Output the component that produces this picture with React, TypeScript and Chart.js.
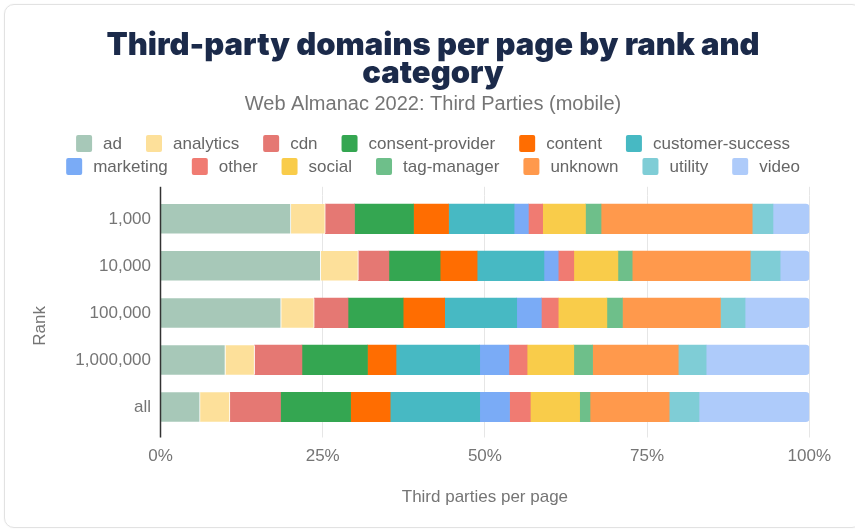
import React, { useEffect, useRef } from "react";
import { Chart, registerables } from "chart.js";

Chart.register(...registerables);

// ---- data ----
const ranks = ["1,000", "10,000", "100,000", "1,000,000", "all"];
const categoryNames = [
  "ad", "analytics", "cdn", "consent-provider", "content", "customer-success",
  "marketing", "other", "social", "tag-manager", "unknown", "utility", "video",
];
const ad = [20.1, 24.7, 18.6, 10.0, 6.1];
const analytics = [5.3, 5.8, 5.1, 4.5, 4.6];
const cdn = [4.5, 4.7, 5.2, 7.3, 7.8];
const consentProvider = [9.1, 7.9, 8.5, 10.1, 10.8];
const content = [5.4, 5.7, 6.4, 4.4, 6.1];
const customerSuccess = [10.1, 10.3, 11.1, 12.9, 13.8];
const marketing = [2.2, 2.2, 3.8, 4.5, 4.6];
const other = [2.2, 2.4, 2.6, 2.8, 3.2];
const social = [6.6, 6.8, 7.5, 7.2, 7.6];
const tagManager = [2.4, 2.2, 2.4, 2.9, 1.6];
const unknown = [23.3, 18.2, 15.1, 13.2, 12.2];
const utility = [3.2, 4.6, 3.8, 4.3, 4.6];
const video = [5.6, 4.5, 9.9, 15.9, 17.0];
const seriesValues = [
  ad, analytics, cdn, consentProvider, content, customerSuccess,
  marketing, other, social, tagManager, unknown, utility, video,
];
const colors = [
  "#a7c8b8", "#fde09a", "#e57873", "#34a651", "#ff6d01", "#47b9c3",
  "#7aabf6", "#f07b72", "#f9cc4a", "#6ebf8a", "#ff994c", "#7fcdd6", "#aecbfa",
];
const xTickValues = [0, 25, 50, 75, 100];
const yAxisTitle = "Rank";

const FONT = "'Liberation Sans', Arial, Helvetica, sans-serif";
const TITLE_FONT = "Inter, 'Liberation Sans', Arial, sans-serif";
const W = 866;
const H = 531;

const legendPlugin = {
  id: "customLegend",
  afterDraw(chart: any) {
    const ctx = chart.ctx as CanvasRenderingContext2D;
    ctx.save();
    ctx.font = `17px ${FONT}`;
    ctx.textBaseline = "middle";
    ctx.textAlign = "left";
    const box = 16, boxH = 17, textGap = 11, gap = 24, maxW = 800;
    const items = chart.data.datasets.map((ds: any) => ({
      text: ds.label,
      color: ds.backgroundColor,
      w: box + textGap + ctx.measureText(ds.label).width,
    }));
    const rows: any[][] = [[]];
    let cur = 0;
    items.forEach((it: any) => {
      const add = (rows[rows.length - 1].length ? gap : 0) + it.w;
      if (cur + add > maxW && rows[rows.length - 1].length) {
        rows.push([it]);
        cur = it.w;
      } else {
        rows[rows.length - 1].push(it);
        cur += add;
      }
    });
    const rowY = [143.5, 166.5];
    rows.forEach((row, ri) => {
      const total = row.reduce((s, it, i) => s + it.w + (i ? gap : 0), 0);
      let x = W / 2 - total / 2;
      const y = rowY[ri] ?? rowY[0] + ri * 23;
      row.forEach((it) => {
        ctx.fillStyle = it.color;
        ctx.beginPath();
        (ctx as any).roundRect(x, y - boxH / 2, box, boxH, 2);
        ctx.fill();
        ctx.fillStyle = "#666666";
        ctx.fillText(it.text, x + box + textGap, y + 1);
        x += it.w + gap;
      });
    });
    const a = chart.chartArea;
    // y axis line, extended past the plot area like the reference
    ctx.strokeStyle = "#333333";
    ctx.lineWidth = 1.5;
    ctx.beginPath();
    ctx.moveTo(a.left, a.top - 8.5);
    ctx.lineTo(a.left, a.bottom + 7);
    ctx.stroke();
    // y axis title
    ctx.translate(40, (a.top + a.bottom) / 2 + 13);
    ctx.rotate(-Math.PI / 2);
    ctx.textAlign = "center";
    ctx.fillStyle = "#757575";
    ctx.fillText(yAxisTitle, 0, 0);
    ctx.restore();
  },
};

export default function App() {
  const ref = useRef<HTMLCanvasElement | null>(null);
  useEffect(() => {
    if (!ref.current) return;
    const datasets = categoryNames.map((name, i) => {
      const ds: any = {
        label: name,
        data: seriesValues[i],
        backgroundColor: colors[i],
        borderWidth: 0,
        borderSkipped: false,
        barThickness: 29.5,
      };
      if (i <= 1) {
        ds.borderWidth = { top: 0, bottom: 0, left: 0, right: 1 };
        ds.borderColor = "#ffffff";
      }
      if (i === categoryNames.length - 1) {
        ds.borderRadius = { topLeft: 0, bottomLeft: 0, topRight: 4, bottomRight: 4 };
      }
      return ds;
    });
    const chart = new Chart(ref.current, {
      type: "bar",
      data: { labels: ranks, datasets },
      plugins: [legendPlugin],
      options: {
        indexAxis: "y",
        responsive: false,
        animation: false,
        devicePixelRatio: 1,
        layout: { padding: { top: 32, left: 0, right: 0, bottom: 0 } },
        plugins: {
          legend: { display: false },
          tooltip: { enabled: false },
          title: {
            display: true,
            text: ["Third-party domains per page by rank and", "category"],
            color: "#1b2a4a",
            font: { family: TITLE_FONT, size: 31, weight: "900", lineHeight: 0.9 },
            padding: { top: 0, bottom: 5 },
          },
          subtitle: {
            display: true,
            text: "Web Almanac 2022: Third Parties (mobile)",
            color: "#757575",
            font: { family: FONT, size: 20, lineHeight: 1.2 },
            padding: { top: 0, bottom: 70 },
          },
        },
        scales: {
          x: {
            type: "linear",
            stacked: true,
            position: "bottom",
            min: 0,
            max: 100,
            afterBuildTicks: (s: any) => {
              s.ticks = xTickValues.map((v) => ({ value: v }));
            },
            ticks: {
              callback: (v: any) => `${v}%`,
              color: "#757575",
              font: { family: FONT, size: 17 },
              padding: 8.5,
              maxRotation: 0,
            },
            grid: { color: "#e6e6e6", lineWidth: 1, tickLength: 7, drawTicks: true },
            border: { display: false },
            title: {
              display: true,
              text: "Third parties per page",
              color: "#757575",
              font: { family: FONT, size: 17 },
              padding: { top: 4, bottom: 23 },
            },
            afterFit: (s: any) => {
              s.height = 100.5;
            },
          },
          xTop: {
            type: "linear",
            position: "top",
            min: 0,
            max: 100,
            afterBuildTicks: (s: any) => {
              s.ticks = xTickValues.map((v) => ({ value: v }));
            },
            ticks: { display: false },
            grid: { color: "#e6e6e6", drawOnChartArea: false, drawTicks: true, tickLength: 8.5 },
            border: { display: false },
            afterFit: (s: any) => {
              s.height = 8.5;
            },
          },
          y: {
            type: "category",
            stacked: true,
            position: "left",
            ticks: {
              color: "#757575",
              font: { family: FONT, size: 17 },
              padding: 9.5,
            },
            grid: { display: false, drawTicks: false },
            border: { display: false },
            afterFit: (s: any) => {
              s.width = 160.5;
            },
          },
          yRight: {
            type: "linear",
            position: "right",
            min: 0,
            max: 1,
            ticks: { display: false },
            grid: { display: false, drawTicks: false },
            border: { display: false },
            afterFit: (s: any) => {
              s.width = W - 809.3;
            },
          },
        },
      } as any,
    });
    return () => chart.destroy();
  }, []);

  return (
    <div style={{ position: "fixed", left: 0, top: 0, width: 855, height: 531, overflow: "hidden", background: "#ffffff" }}>
      <div
        style={{
          position: "absolute",
          left: 4,
          top: 4,
          width: 858 - 2,
          height: 524 - 2,
          border: "1px solid #e2e2e2",
          borderRadius: 10,
          boxShadow: "0 0 2px rgba(0,0,0,0.06)",
        }}
      />
      <canvas
        ref={ref}
        width={W}
        height={H}
        style={{ position: "absolute", left: 0, top: 0, width: W, height: H }}
      />
    </div>
  );
}
